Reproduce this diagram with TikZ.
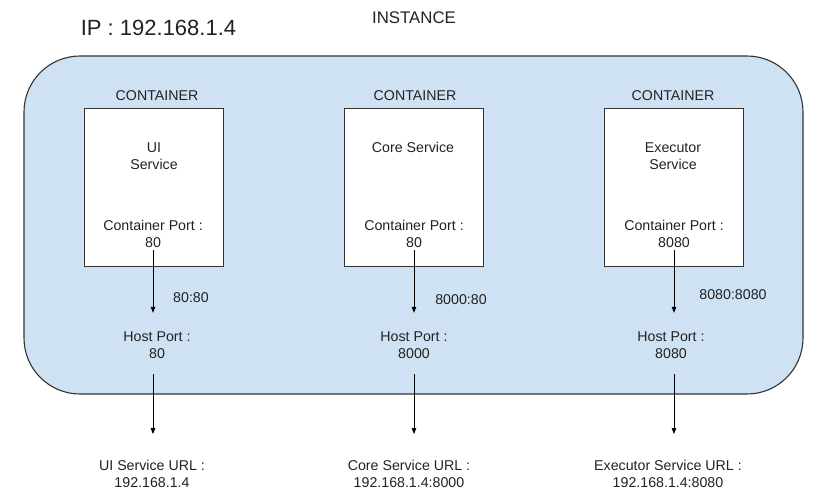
\documentclass[tikz,border=0pt]{standalone}
\usepackage{fontspec}
\setmainfont{Liberation Sans}
\usetikzlibrary{arrows.meta}
\definecolor{instfill}{HTML}{CFE2F3}
\definecolor{txt}{HTML}{222222}
\definecolor{edge}{HTML}{333333}
\begin{document}
\begin{tikzpicture}[x=1pt,y=-1pt,
  lbl/.style={text=txt,inner sep=0pt,align=center,font=\fontsize{14.2}{17}\selectfont},
  biglbl/.style={text=txt,inner sep=0pt,font=\fontsize{22}{26}\selectfont},
  instlbl/.style={text=txt,inner sep=0pt,font=\fontsize{16.8}{20}\selectfont},
  instbox/.style={draw=edge,fill=instfill,line width=1.1pt,rounded corners=56pt},
  contbox/.style={draw=edge,fill=white,line width=1pt,minimum width=139pt,minimum height=158pt,inner sep=0pt},
  arr/.style={draw=black,line width=0.9pt,-{Triangle[length=6pt,width=4.5pt]}}]
\useasboundingbox (0,0) rectangle (826,499);
\draw[instbox] (24,56) rectangle (803,394);
\node[biglbl] (ip) at (158.5,28) {IP : 192.168.1.4};
\node[instlbl] (inst) at (414,18) {INSTANCE};
% containers
\node[contbox] (c1) at (153.5,187) {};
\node[contbox] (c2) at (413.5,187) {};
\node[contbox] (c3) at (673.5,187) {};
\node[lbl] (cl1) at (157,96) {CONTAINER};
\node[lbl] (cl2) at (415,96) {CONTAINER};
\node[lbl] (cl3) at (673,96) {CONTAINER};
\node[lbl] (s1) at (154,156) {UI\\Service};
\node[lbl] (s2) at (413,147) {Core Service};
\node[lbl] (s3) at (673,156) {Executor\\Service};
\node[lbl] (cp1) at (153,234) {Container Port :\\80};
\node[lbl] (cp2) at (414,234) {Container Port :\\80};
\node[lbl] (cp3) at (674,234) {Container Port :\\8080};
\node[lbl] (m1) at (191,298) {80:80};
\node[lbl] (m2) at (461,300) {8000:80};
\node[lbl] (m3) at (733,295) {8080:8080};
\node[lbl] (hp1) at (157,345.5) {Host Port :\\80};
\node[lbl] (hp2) at (414,345.5) {Host Port :\\8000};
\node[lbl] (hp3) at (671,345.5) {Host Port :\\8080};
\node[lbl] (u1) at (152,474) {UI Service URL :\\192.168.1.4};
\node[lbl] (u2) at (409,474) {Core Service URL :\\192.168.1.4:8000};
\node[lbl] (u3) at (668,474) {Executor Service URL :\\192.168.1.4:8080};
% arrows
\foreach \i in {1,2,3}{
  \draw[arr,shorten <=2pt,shorten >=19pt] (cp\i.south) -- (cp\i.south |- hp\i.north);
  \draw[arr,shorten <=15pt,shorten >=26pt] (hp\i.south -| cp\i.south) -- (u\i.north -| cp\i.south);
}
\end{tikzpicture}
\end{document}
